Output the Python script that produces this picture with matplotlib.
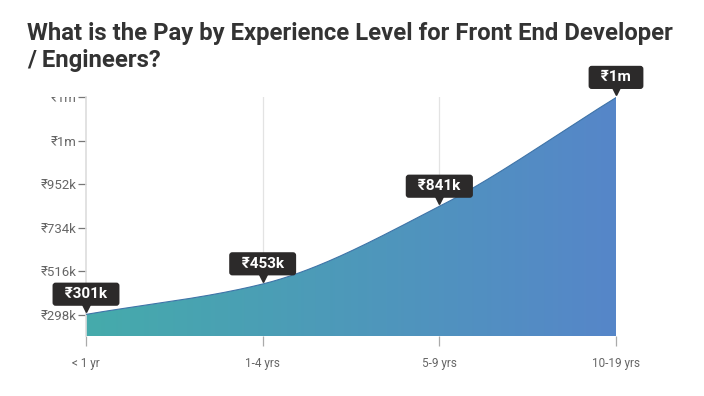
import matplotlib.pyplot as plt
import numpy as np
from matplotlib.colors import LinearSegmentedColormap
from matplotlib.transforms import offset_copy, Bbox, TransformedBbox

plt.rcParams['font.family'] = ['Roboto', 'DejaVu Sans']

# data (thousands of rupees)
levels = ['< 1 yr', '1-4 yrs', '5-9 yrs', '10-19 yrs']
pay = [301, 453, 841, 1385]
pay_labels = ['₹301k', '₹453k', '₹841k', '₹1m']
ytick_vals = [298, 516, 734, 952, 1170, 1388]
ytick_labels = ['₹298k', '₹516k', '₹734k', '₹952k', '₹1m', '₹1m']


def monotone(x, y, n=60):
    # Fritsch-Carlson monotone cubic, only for drawing the smooth edge
    x = np.asarray(x, float)
    y = np.asarray(y, float)
    h = np.diff(x)
    d = np.diff(y) / h
    m = np.zeros_like(y)
    m[0], m[-1] = d[0], d[-1]
    for i in range(1, len(y) - 1):
        if d[i - 1] * d[i] <= 0:
            m[i] = 0
        else:
            w1 = 2 * h[i] + h[i - 1]
            w2 = h[i] + 2 * h[i - 1]
            m[i] = (w1 + w2) / (w1 / d[i - 1] + w2 / d[i])
    xs, ys = [], []
    for i in range(len(h)):
        t = np.linspace(0, 1, n)
        h00 = 2 * t**3 - 3 * t**2 + 1
        h10 = t**3 - 2 * t**2 + t
        h01 = -2 * t**3 + 3 * t**2
        h11 = t**3 - t**2
        xs.append(x[i] + t * h[i])
        ys.append(h00 * y[i] + h10 * h[i] * m[i] + h01 * y[i + 1] + h11 * h[i] * m[i + 1])
    return np.concatenate(xs), np.concatenate(ys)


fig = plt.figure(figsize=(7.04, 3.96), dpi=100)
ax = fig.add_axes([86 / 704, 60 / 396, 530 / 704, 239 / 396])

ymin, ymax = 193, 1388
xpos = np.arange(len(levels))

# vertical grid lines
for x in xpos[1:]:
    ax.axvline(x, color='#e3e3e3', lw=0.9, zorder=0)

xs, ys = monotone(xpos, pay)
poly = ax.fill_between(xs, ys, ymin, color='none', zorder=2)
cmap = LinearSegmentedColormap.from_list('g', ['#45abab', '#5686c9'])
grad = np.linspace(0, 1, 256).reshape(1, -1)
im = ax.imshow(grad, cmap=cmap, aspect='auto', extent=[0, len(levels) - 1, ymin, ymax],
               zorder=2, interpolation='bilinear')
im.set_clip_path(poly.get_paths()[0], transform=ax.transData)
ax.plot(xs, ys, color='#3f74a8', lw=0.8, zorder=3)
ax.set_xlim(0, len(levels) - 1)
ax.set_ylim(ymin, ymax)

# value labels
dark = '#2c2a2a'
for x, v, lab in zip(xpos, pay, pay_labels):
    tri = offset_copy(ax.transData, fig=fig, x=0, y=6.5, units='dots')
    ax.plot(x, v, marker='v', ms=5.5, color=dark, transform=tri, zorder=6, clip_on=False)
    ax.annotate('\u2002' + lab + '\u2002', xy=(x, v), xytext=(0, 9.5), textcoords='offset points',
                ha='center', va='bottom', color='white', fontsize=11, fontweight='bold',
                bbox=dict(boxstyle='round,pad=0.3,rounding_size=0.2', fc=dark, ec='none'),
                zorder=7, annotation_clip=False)

# axes styling
for s in ['top', 'right', 'bottom']:
    ax.spines[s].set_visible(False)
ax.spines['left'].set_color('#dddddd')
ax.spines['left'].set_linewidth(1.2)
ax.set_yticks(ytick_vals)
ax.set_yticklabels(ytick_labels)
ax.set_xticks(xpos)
ax.set_xticklabels(levels)
ax.tick_params(axis='y', length=6, width=0.9, color='#777777', labelcolor='#666666',
               labelsize=9.5, pad=1)
ax.tick_params(axis='x', length=7, width=0.9, color='#aaaaaa', labelcolor='#666666',
               labelsize=8.5, pad=8, direction='out')

# top tick label is cut off at the plot top
top = ax.get_yticklabels()[-1]
top.set_clip_on(True)
top.set_clip_box(TransformedBbox(Bbox([[0, 0], [1, 299 / 396]]), fig.transFigure))

fig.text(27 / 704, 1 - 22 / 396, 'What is the Pay by Experience Level for Front End Developer\n/ Engineers?',
         fontsize=17.2, fontweight='bold', color='#333333', ha='left', va='top',
         linespacing=1.22)

plt.savefig('out.png', dpi=100)
